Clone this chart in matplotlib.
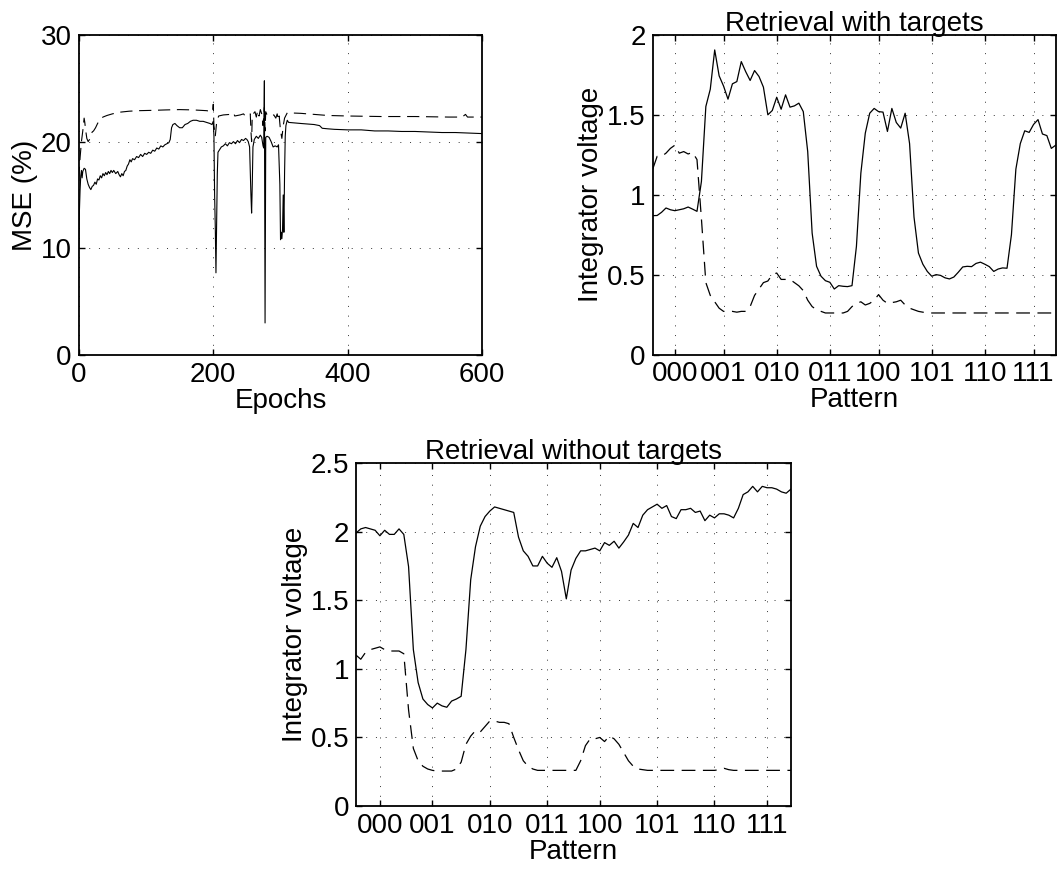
import numpy as np
import matplotlib.pyplot as plt

plt.rcParams['font.family'] = ['Liberation Sans', 'DejaVu Sans']
plt.rcParams['font.size'] = 20

# --- training curves (MSE vs epochs) ---
epochs_solid = [0, 1, 2, 3, 4, 5, 6, 8, 10, 12, 14, 16, 18, 20, 22, 24, 26, 28, 30, 32,
                34, 36, 38, 40, 42, 44, 46, 48, 50, 52, 55, 58, 60, 62, 64, 66, 68, 70, 72, 74,
                76, 78, 80, 83, 86, 89, 92, 95, 98, 101, 104, 107, 110, 113, 116, 119, 122, 125, 128, 131,
                134, 136, 138, 140, 143, 146, 150, 154, 158, 162, 166, 170, 175, 180, 185, 190, 195, 198, 200, 201,
                202, 203, 204, 205, 206, 207, 209, 212, 215, 218, 221, 224, 227, 230, 233, 236, 239, 242, 245, 248,
                250, 252, 254, 256, 257, 258, 259, 261, 264, 267, 270, 272, 274, 275, 276, 277, 278, 280, 283, 286,
                289, 292, 295, 297, 299, 300, 301, 302, 303, 304, 305, 306, 307, 308, 310, 312, 330, 350, 358, 362,
                370, 380, 400, 420, 440, 460, 480, 500, 520, 540, 560, 580, 600]
mse_solid = [10.0, 13.5, 15.5, 16.8, 17.3, 16.6, 17.2, 17.5, 17.4, 16.5, 16.0, 15.7, 15.5, 15.8, 15.9, 16.2, 16.0, 16.5, 16.4, 16.8,
             16.6, 17.0, 16.8, 17.1, 16.9, 17.2, 17.0, 17.3, 17.1, 17.3, 17.0, 17.2, 16.9, 16.7, 17.0, 16.8, 17.2, 17.3, 17.7, 17.9,
             18.3, 18.1, 18.4, 18.3, 18.6, 18.5, 18.8, 18.6, 18.9, 18.8, 19.0, 18.9, 19.2, 19.1, 19.4, 19.3, 19.6, 19.5, 19.7, 19.8,
             19.9, 20.2, 21.3, 21.6, 21.7, 21.5, 21.3, 21.3, 21.6, 21.7, 21.9, 22.0, 22.0, 21.9, 21.9, 21.8, 21.7, 21.6, 21.9, 20.5,
             15.0, 12.0, 7.7, 12.5, 17.0, 19.0, 19.2, 19.5, 19.6, 19.8, 19.6, 19.9, 19.8, 20.0, 19.8, 20.1, 19.9, 20.2, 20.1, 20.3,
             20.2, 20.0, 19.5, 15.0, 13.3, 16.0, 19.5, 20.2, 20.5, 20.3, 20.6, 20.4, 19.6, 19.4, 25.7, 3.0, 20.4, 20.5, 20.4, 20.0,
             19.5, 19.6, 19.5, 19.7, 16.0, 10.8, 11.5, 10.9, 11.8, 15.0, 11.5, 17.0, 20.5, 21.5, 22.0, 21.8, 21.7, 21.6, 21.5, 21.25,
             21.2, 21.15, 21.1, 21.1, 21.0, 21.0, 20.95, 20.95, 20.9, 20.85, 20.85, 20.8, 20.75]

epochs_dashed = [0, 2, 4, 6, 8, 9, 10, 12, 14, 16, 18, 20, 22, 25, 28, 32, 36, 42, 50, 60,
                 75, 90, 110, 130, 150, 170, 190, 199, 200, 201, 203, 205, 208, 215, 225, 230, 232, 240, 245, 248,
                 252, 255, 256, 257, 258, 262, 264, 266, 268, 270, 272, 274, 276, 277, 278, 280, 285, 290, 293, 295,
                 297, 298, 300, 302, 304, 306, 310, 330, 350, 370, 400, 450, 500, 550, 570, 575, 578, 600]
mse_dashed = [16.5, 18.5, 20.0, 21.0, 22.2, 21.8, 21.2, 20.3, 20.0, 20.2, 20.6, 20.9, 21.0, 21.3, 21.7, 22.1, 22.3, 22.45, 22.6, 22.75,
              22.85, 22.9, 22.93, 22.97, 23.0, 22.97, 22.9, 22.8, 23.5, 21.5, 20.5, 21.8, 22.4, 22.5, 22.55, 22.7, 22.4, 22.5, 22.6, 22.35,
              22.5, 22.6, 21.0, 20.0, 22.5, 22.8, 22.3, 22.9, 22.4, 23.0, 22.6, 21.5, 23.2, 21.0, 22.8, 22.5, 22.4, 22.5, 22.2, 22.6,
              22.0, 22.4, 21.0, 20.3, 21.5, 22.2, 22.7, 22.65, 22.55, 22.45, 22.4, 22.35, 22.35, 22.3, 22.3, 22.55, 22.3, 22.3]

# --- retrieval curves (integrator voltage vs sample) ---
pattern_labels = ['000', '001', '010', '011', '100', '101', '110', '111']
pattern_ticks = [5, 16, 28, 40, 51, 63, 75, 86]

with_solid = [0.869, 0.87, 0.89, 0.917, 0.906, 0.90, 0.906, 0.912, 0.923, 0.91,
              0.896, 1.083, 1.552, 1.66, 1.906, 1.744, 1.68, 1.598, 1.694, 1.708,
              1.833, 1.77, 1.715, 1.777, 1.74, 1.673, 1.50, 1.527, 1.61, 1.535,
              1.625, 1.548, 1.556, 1.573, 1.52, 1.27, 0.76, 0.552, 0.49, 0.462,
              0.452, 0.41, 0.431, 0.427, 0.425, 0.431, 0.677, 1.135, 1.385, 1.51,
              1.54, 1.52, 1.517, 1.396, 1.54, 1.452, 1.417, 1.51, 1.32, 0.86,
              0.635, 0.565, 0.52, 0.49, 0.50, 0.495, 0.48, 0.473, 0.485, 0.515,
              0.548, 0.552, 0.55, 0.57, 0.578, 0.565, 0.55, 0.52, 0.535, 0.542,
              0.54, 0.75, 1.16, 1.32, 1.40, 1.39, 1.44, 1.47, 1.38, 1.37,
              1.29, 1.31]
with_dashed = [1.16, 1.24, 1.24, 1.26, 1.29, 1.31, 1.26, 1.27, 1.255, 1.265,
               1.22, 0.85, 0.45, 0.37, 0.33, 0.29, 0.27, 0.27, 0.27, 0.265,
               0.27, 0.27, 0.30, 0.37, 0.41, 0.45, 0.46, 0.50, 0.51, 0.47,
               0.47, 0.47, 0.45, 0.43, 0.40, 0.34, 0.30, 0.28, 0.27, 0.26,
               0.26, 0.26, 0.26, 0.26, 0.27, 0.30, 0.32, 0.33, 0.31, 0.32,
               0.34, 0.375, 0.34, 0.32, 0.325, 0.33, 0.34, 0.31, 0.29, 0.28,
               0.27, 0.265, 0.26, 0.26, 0.26, 0.26, 0.26, 0.26, 0.26, 0.26,
               0.26, 0.26, 0.26, 0.26, 0.26, 0.26, 0.26, 0.26, 0.26, 0.26,
               0.26, 0.26, 0.26, 0.26, 0.26, 0.26, 0.26, 0.26, 0.26, 0.26,
               0.26, 0.26]

without_solid = [1.99, 2.02, 2.03, 2.02, 2.01, 1.97, 2.01, 1.98, 1.98, 2.02,
                 1.98, 1.745, 1.14, 0.90, 0.78, 0.74, 0.715, 0.75, 0.73, 0.72,
                 0.765, 0.78, 0.80, 1.14, 1.65, 1.89, 2.04, 2.11, 2.15, 2.18,
                 2.17, 2.16, 2.15, 2.14, 1.96, 1.86, 1.82, 1.75, 1.75, 1.82,
                 1.77, 1.74, 1.81, 1.71, 1.51, 1.72, 1.805, 1.86, 1.86, 1.87,
                 1.88, 1.86, 1.92, 1.90, 1.93, 1.88, 1.925, 1.975, 2.06, 2.03,
                 2.12, 2.16, 2.18, 2.20, 2.17, 2.19, 2.11, 2.095, 2.16, 2.16,
                 2.17, 2.14, 2.15, 2.08, 2.12, 2.10, 2.13, 2.13, 2.12, 2.10,
                 2.17, 2.27, 2.29, 2.33, 2.29, 2.33, 2.32, 2.32, 2.31, 2.29,
                 2.28, 2.31]
without_dashed = [1.10, 1.07, 1.12, 1.14, 1.15, 1.16, 1.14, 1.13, 1.13, 1.13,
                  1.11, 0.70, 0.42, 0.33, 0.29, 0.27, 0.26, 0.255, 0.255, 0.255,
                  0.255, 0.27, 0.32, 0.45, 0.51, 0.55, 0.54, 0.58, 0.62, 0.62,
                  0.61, 0.61, 0.60, 0.50, 0.41, 0.33, 0.29, 0.27, 0.26, 0.26,
                  0.26, 0.26, 0.26, 0.26, 0.26, 0.26, 0.26, 0.33, 0.44, 0.49,
                  0.49, 0.50, 0.47, 0.51, 0.49, 0.45, 0.39, 0.33, 0.29, 0.27,
                  0.265, 0.26, 0.26, 0.26, 0.26, 0.26, 0.26, 0.26, 0.26, 0.26,
                  0.26, 0.26, 0.26, 0.26, 0.26, 0.26, 0.265, 0.275, 0.265, 0.26,
                  0.26, 0.26, 0.26, 0.26, 0.26, 0.26, 0.26, 0.26, 0.26, 0.26,
                  0.26, 0.26]

samples = np.arange(len(with_solid))
DASH = (0, (11, 6))


def style(ax):
    ax.grid(True, linestyle=(0, (1, 9)), color='0.2', linewidth=0.7)
    ax.tick_params(direction='in', top=True, right=True, length=4, width=1, pad=5)
    for s in ax.spines.values():
        s.set_linewidth(1.3)


fig = plt.figure(figsize=(10.57, 8.73), dpi=100)

# top left: MSE
ax1 = fig.add_axes([0.0745, 0.5934, 0.3818, 0.3666])
ax1.plot(epochs_solid, mse_solid, color='k', lw=0.8)
ax1.plot(epochs_dashed, mse_dashed, color='k', lw=0.8, linestyle=DASH)
ax1.set_xlim(0, 600)
ax1.set_ylim(0, 30)
ax1.set_xticks([0, 200, 400, 600])
ax1.set_yticks([0, 10, 20, 30])
ax1.set_xlabel('Epochs', labelpad=0)
ax1.set_ylabel('MSE (%)', labelpad=2)
style(ax1)

volt_labels = ['0', '0.5', '1', '1.5', '2', '2.5']

# top right: retrieval with targets
ax2 = fig.add_axes([0.6175, 0.5939, 0.3813, 0.3661])
ax2.plot(samples, with_solid, color='k', lw=0.9)
ax2.plot(samples, with_dashed, color='k', lw=0.9, linestyle=DASH)
ax2.set_xlim(0, samples[-1])
ax2.set_ylim(0, 2)
ax2.set_xticks(pattern_ticks)
ax2.set_xticklabels(pattern_labels)
ax2.set_yticks([0, 0.5, 1, 1.5, 2])
ax2.set_yticklabels(volt_labels[:5])
ax2.set_xlabel('Pattern', labelpad=0)
ax2.set_ylabel('Integrator voltage', labelpad=2)
ax2.set_title('Retrieval with targets', pad=3, fontsize=20)
style(ax2)

# bottom: retrieval without targets
ax3 = fig.add_axes([0.3368, 0.0767, 0.4115, 0.3929])
ax3.plot(samples, without_solid, color='k', lw=0.9)
ax3.plot(samples, without_dashed, color='k', lw=0.9, linestyle=DASH)
ax3.set_xlim(0, samples[-1])
ax3.set_ylim(0, 2.5)
ax3.set_xticks(pattern_ticks)
ax3.set_xticklabels(pattern_labels)
ax3.set_yticks([0, 0.5, 1, 1.5, 2, 2.5])
ax3.set_yticklabels(volt_labels)
ax3.set_xlabel('Pattern', labelpad=0)
ax3.set_ylabel('Integrator voltage', labelpad=2)
ax3.set_title('Retrieval without targets', pad=3, fontsize=20)
style(ax3)

fig.savefig('out.png', dpi=100)
